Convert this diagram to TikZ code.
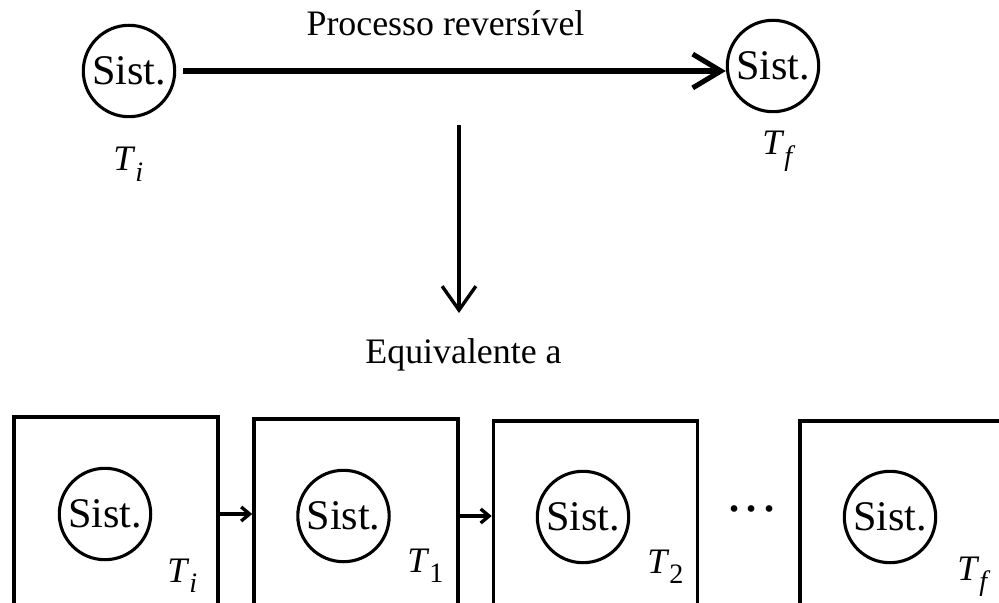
\documentclass[tikz,border=0pt]{standalone}
\usepackage{fontspec}
\setmainfont{Liberation Serif}
\usetikzlibrary{arrows.meta}
\newcommand{\Tvar}[1]{\textit{T}\raisebox{-0.3em}{\fontsize{20}{20}\selectfont #1}}

\begin{document}
\begin{tikzpicture}[x=0.025cm, y=-0.025cm,
  sist/.style={circle, draw, line width=2.2pt, minimum size=65pt, inner sep=0pt,
    font=\fontsize{30}{30}\selectfont},
  caixa/.style={draw, line width=2.6pt, minimum width=145pt, minimum height=145pt, inner sep=0pt},
  rotulo/.style={font=\fontsize{25.5}{28}\selectfont},
  temp/.style={anchor=base west, inner sep=0pt, font=\fontsize{25.5}{28}\selectfont}]
  \useasboundingbox (0,0) rectangle (999,603);
  \clip (0,0) rectangle (999,603);

  % Top: one reversible process from T_i to T_f
  \node[sist] (ini) at (129,71) {Sist.};
  \node[sist] (fim) at (773,66) {Sist.};
  \draw[line width=3.6pt, -{Straight Barb[length=20pt, width=24pt]}, shorten <=5pt]
    (ini.east) -- (ini.east -| fim.west);
  \node[rotulo, anchor=base] (proc) at (445.5,36) {Processo reversível};
  \node[temp] (tini) at (113,171) {\Tvar{\textit{i}}};
  \node[temp] (tfim) at (762,155) {\Tvar{\textit{f}}};

  % down arrow
  \coordinate (dsup) at (459,125);
  \coordinate (dinf) at (459,313);
  \draw[line width=2.4pt, -{Straight Barb[length=17pt, width=24pt]}] (dsup) -- (dinf);
  \node[rotulo, anchor=base] (equiv) at (463.5,363) {Equivalente a};

  % Bottom: chain of boxes, one small step each
  \node[caixa] (b1) at (116,519) {};
  \node[caixa] (b2) at (356,521) {};
  \node[caixa] (b3) at (595.5,523) {};
  \node[caixa] (b4) at (902,523) {};
  \node[sist] (s1) at (105,514) {Sist.};
  \node[sist] (s2) at (343.5,516) {Sist.};
  \node[sist] (s3) at (583,517) {Sist.};
  \node[sist] (s4) at (890,517) {Sist.};
  \node[temp] (t1) at (167,582) {\Tvar{\textit{i}}};
  \node[temp] (t2) at (407,572) {\Tvar{1}};
  \node[temp] (t3) at (647,573) {\Tvar{2}};
  \node[temp] (t4) at (957,580) {\Tvar{\textit{f}}};
  \draw[line width=2.4pt, -{Straight Barb[length=6pt, width=10pt]}] (s1 -| b1.east) -- (s1 -| b2.west);
  \draw[line width=2.4pt, -{Straight Barb[length=6pt, width=10pt]}] (s2 -| b2.east) -- (s2 -| b3.west);
  \node[anchor=base, inner sep=0pt, font=\fontsize{40}{40}\selectfont] (pts) at (752,511)
    {.\kern2.5pt.\kern2.5pt.};
\end{tikzpicture}
\end{document}
